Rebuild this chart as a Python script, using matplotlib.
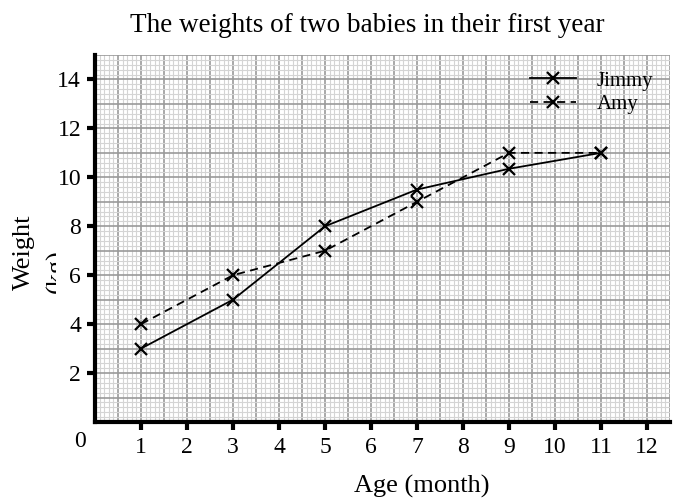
import matplotlib
matplotlib.use("Agg")
import matplotlib.pyplot as plt
from matplotlib.ticker import MultipleLocator
from matplotlib.patches import Rectangle

plt.rcParams['font.family'] = ['Liberation Serif', 'DejaVu Serif']

months = [1, 3, 5, 7, 9, 11]
jimmy = [3, 5, 8, 9.5, 10.35, 11]
amy = [4, 6, 7, 9, 11, 11]
xticks = list(range(1, 13))
yticks = [2, 4, 6, 8, 10, 12, 14]

fig = plt.figure(figsize=(6.76, 4.98), dpi=100)
W, H = 676, 498
L, R, B, T = 95, 670, 422, 55
ax = fig.add_axes([L / W, 1 - B / H, (R - L) / W, (B - T) / H])
ax.set_xlim(0, 12.5)
ax.set_ylim(0, 15)

ax.xaxis.set_major_locator(MultipleLocator(0.5))
ax.xaxis.set_minor_locator(MultipleLocator(0.1))
ax.yaxis.set_major_locator(MultipleLocator(1))
ax.yaxis.set_minor_locator(MultipleLocator(0.2))
ax.grid(which='minor', color='#d4d4d4', linewidth=0.8)
ax.grid(which='major', color='#9a9a9a', linewidth=1.2)
ax.set_axisbelow(True)
ax.tick_params(which='both', length=0, labelbottom=False, labelleft=False)

for s in ['top', 'right']:
    ax.spines[s].set_visible(False)
for s in ['left', 'bottom']:
    ax.spines[s].set_linewidth(3)
    ax.spines[s].set_color('black')

ax2 = fig.add_axes(ax.get_position(), frameon=False)
ax2.set_xlim(ax.get_xlim())
ax2.set_ylim(ax.get_ylim())
ax2.set_xticks(xticks)
ax2.set_yticks(yticks)
ax2.set_xticklabels([str(v) for v in xticks])
ax2.set_yticklabels([str(v) for v in yticks])
ax2.tick_params(direction='out', length=6, width=3, labelsize=17, color='black')
ax2.tick_params(axis='x', pad=5)
ax2.tick_params(axis='y', pad=4)
ax2.patch.set_visible(False)

ax2.plot(months, jimmy, color='black', linestyle='-', linewidth=1.3,
         marker='x', markersize=8, markeredgewidth=1.6, label='Jimmy')
ax2.plot(months, amy, color='black', linestyle=(0, (4.5, 3)), linewidth=1.3,
         marker='x', markersize=8, markeredgewidth=1.6, label='Amy')

leg = ax2.legend(loc='upper left', bbox_to_anchor=((530 - L) / (R - L), (B - 71) / (B - T)),
                 frameon=False, fontsize=15, handlelength=2.2, handletextpad=1.0,
                 labelspacing=0.2, borderaxespad=0, borderpad=0)

fig.text(80 / W, 1 - 441 / H, '0', fontsize=17, ha='center', va='center')
fig.text(367 / W, 1 - 32 / H, 'The weights of two babies in their first year',
         fontsize=19.5, ha='center', va='baseline')
fig.text(422 / W, 1 - 486 / H, 'Age (month)', fontsize=19, ha='center', va='center')
fig.text(24 / W, 1 - 252 / H, 'Weight', fontsize=19, ha='center', va='center', rotation=90)
t = fig.text(57 / W, 1 - 271 / H, '(kg)', fontsize=19, ha='center', va='center', rotation=90)
clip = Rectangle((0, 0), 56, H, transform=None, visible=False)
fig.add_artist(clip)
t.set_clip_path(clip)

fig.savefig('out.png', dpi=100)
